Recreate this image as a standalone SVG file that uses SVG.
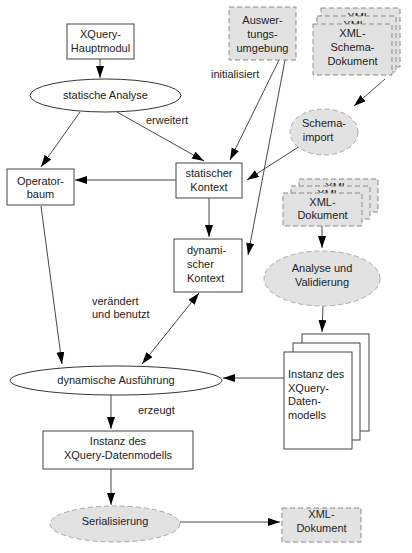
<svg xmlns="http://www.w3.org/2000/svg" width="412" height="553" viewBox="0 0 412 553">
<style>
text{font-family:"Liberation Sans",Arial,sans-serif;font-size:11px;fill:#222}
.c{text-anchor:middle}
.box{fill:#fff;stroke:#444;stroke-width:1}
.dash{fill:#e2e2e2;stroke:#8a8a8a;stroke-width:1;stroke-dasharray:5,3}
.ell{fill:#fff;stroke:#333;stroke-width:1}
.gell{fill:#e2e2e2;stroke:#aaa;stroke-width:1;stroke-dasharray:5,3}
.ln{fill:none;stroke:#333;stroke-width:0.9;marker-end:url(#ah)}
.dbl{fill:none;stroke:#333;stroke-width:0.9;marker-end:url(#ah);marker-start:url(#ah)}
</style>
<defs>
<marker id="ah" markerUnits="userSpaceOnUse" markerWidth="13" markerHeight="9" refX="12" refY="4" orient="auto-start-reverse">
<path d="M0,0 L12,4 L0,8 z" fill="#000"/>
</marker>
</defs>
<rect width="412" height="553" fill="#fff"/>

<g id="connectors">
<path class="ln" d="M100,59 L100,78"/>
<path class="ln" d="M80,112 L41,167"/>
<path class="ln" d="M117,112 L204,161"/>
<path class="ln" d="M176,180 L75,180"/>
<path class="ln" d="M209,198 L209,237"/>
<path class="ln" d="M279,60 L230,160"/>
<path class="ln" d="M285,60 L248,255"/>
<path class="ln" d="M385,79 L354,106"/>
<path class="ln" d="M300,146 L247,180"/>
<path class="ln" d="M41,206 L62,364"/>
<path class="dbl" d="M142,364 L199,293"/>
<path class="ln" d="M322,226 L322,248"/>
<path class="ln" d="M323,306 L322,332"/>
<path class="ln" d="M284,378 L223,378"/>
<path class="ln" d="M111,395 L111,429"/>
<path class="ln" d="M111,469 L111,505"/>
<path class="ln" d="M180,522 L280,522"/>
</g>

<g id="labels">
<text x="146" y="124">erweitert</text>
<text x="211" y="78">initialisiert</text>
<text x="92" y="305">verändert</text>
<text x="92" y="318">und benutzt</text>
<text x="138" y="414">erzeugt</text>
</g>

<g id="hauptmodul">
<rect class="box" x="67" y="24" width="67" height="35"/>
<text class="c" x="100.5" y="38">XQuery-</text>
<text class="c" x="100.5" y="52">Hauptmodul</text>
</g>

<g id="statische-analyse">
<ellipse class="ell" cx="105.5" cy="95.5" rx="75.5" ry="16.5"/>
<text class="c" x="105.5" y="99">statische Analyse</text>
</g>

<g id="operatorbaum">
<rect class="box" x="7" y="169" width="67" height="36"/>
<text class="c" x="40.5" y="185">Operator-</text>
<text class="c" x="40.5" y="198">baum</text>
</g>

<g id="statischer-kontext">
<rect class="box" x="176" y="163" width="66" height="35"/>
<text class="c" x="209" y="177">statischer</text>
<text class="c" x="209" y="191">Kontext</text>
</g>

<g id="dynamischer-kontext">
<rect class="box" x="174" y="239" width="68" height="53"/>
<text x="187" y="254">dynami-</text>
<text x="187" y="268">scher</text>
<text x="187" y="282">Kontext</text>
</g>

<g id="auswertungsumgebung">
<rect class="dash" x="229" y="7" width="67" height="53"/>
<text class="c" x="262.5" y="24">Auswer-</text>
<text class="c" x="262.5" y="38">tungs-</text>
<text class="c" x="262.5" y="52">umgebung</text>
</g>

<g id="xml-schema-dokument">
<rect class="dash" x="321" y="8" width="79" height="59"/>
<text class="c" x="360.5" y="21">XML-</text>
<rect class="dash" x="317" y="16" width="79" height="56"/>
<text class="c" x="356.5" y="29">XML-</text>
<rect class="dash" x="313" y="24" width="79" height="51"/>
<text class="c" x="352.5" y="37">XML-</text>
<text class="c" x="352.5" y="51">Schema-</text>
<text class="c" x="352.5" y="65">Dokument</text>
</g>

<g id="schemaimport">
<ellipse class="gell" cx="324" cy="132" rx="34" ry="23"/>
<text class="c" x="324" y="127">Schema-</text>
<text class="c" x="318" y="141">import</text>
</g>

<g id="xml-dokument-stapel">
<rect class="dash" x="299" y="179" width="79" height="33"/>
<text class="c" x="338.5" y="191">XML-</text>
<rect class="dash" x="291" y="186" width="79" height="33"/>
<text class="c" x="330.5" y="198">XML-</text>
<rect class="dash" x="283" y="193" width="79" height="33"/>
<text class="c" x="322.5" y="206">XML-</text>
<text class="c" x="322.5" y="219">Dokument</text>
</g>

<g id="analyse-validierung">
<ellipse class="gell" cx="322" cy="278.5" rx="58" ry="27.5"/>
<text class="c" x="322" y="272">Analyse und</text>
<text class="c" x="322" y="286">Validierung</text>
</g>

<g id="instanz-stapel">
<rect class="box" x="302" y="334" width="67" height="97"/>
<rect class="box" x="293" y="343" width="67" height="97"/>
<rect class="box" x="284" y="352" width="68" height="97"/>
<text x="288" y="378">Instanz des</text>
<text x="288" y="392">XQuery-</text>
<text x="288" y="405">Daten-</text>
<text x="288" y="419">modells</text>
</g>

<g id="dynamische-ausfuehrung">
<ellipse class="ell" cx="116" cy="380.5" rx="106" ry="14.5"/>
<text class="c" x="116" y="384">dynamische Ausführung</text>
</g>

<g id="instanz-datenmodell">
<rect class="box" x="43" y="431" width="150" height="38"/>
<text class="c" x="118" y="445">Instanz des</text>
<text class="c" x="118" y="459">XQuery-Datenmodells</text>
</g>

<g id="serialisierung">
<ellipse class="gell" cx="115" cy="524" rx="65" ry="18"/>
<text class="c" x="115" y="525">Serialisierung</text>
</g>

<g id="xml-dokument">
<rect class="dash" x="282" y="508" width="79" height="34"/>
<text class="c" x="321.5" y="518">XML-</text>
<text class="c" x="321.5" y="532">Dokument</text>
</g>
</svg>
